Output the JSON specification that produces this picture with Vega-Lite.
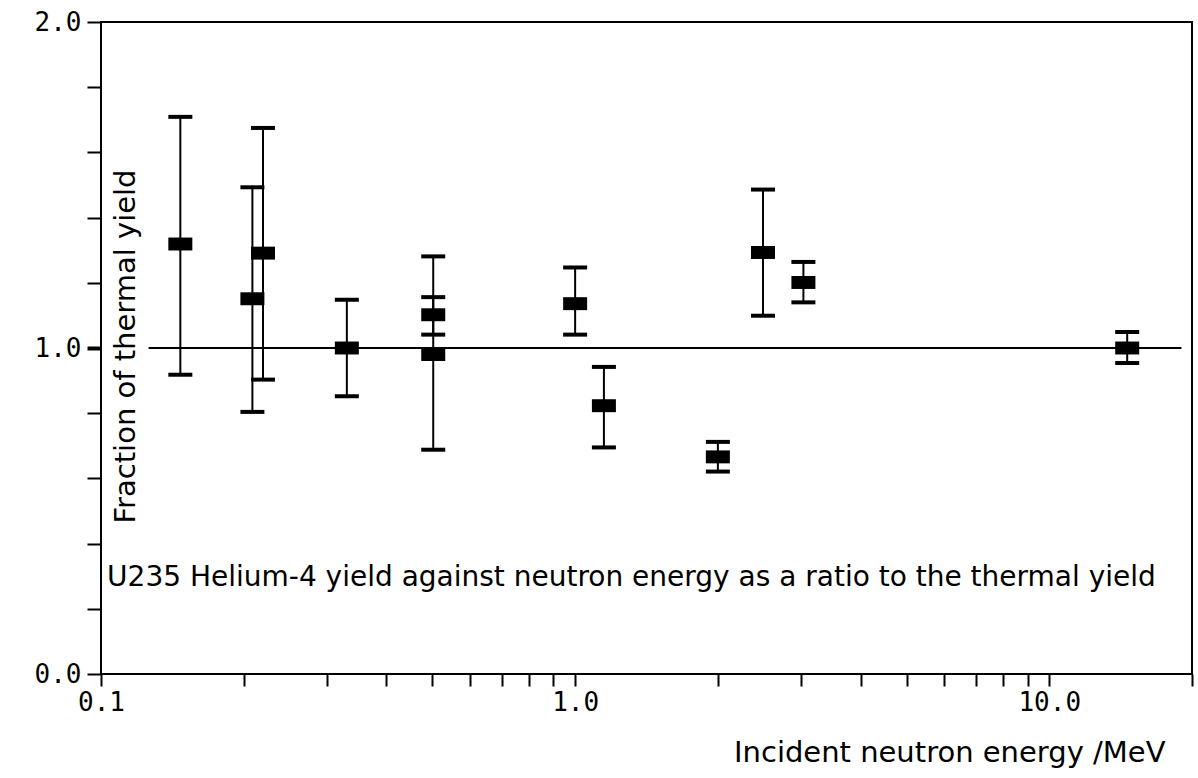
{
  "$schema": "https://vega.github.io/schema/vega-lite/v6.json",
  "width": 1091,
  "height": 652,
  "autosize": {"type": "none"},
  "padding": {"left": 101, "top": 22, "right": 6, "bottom": 104},
  "background": "white",
  "config": {
    "view": {"stroke": "black", "strokeWidth": 2},
    "font": "DejaVu Sans",
    "axis": {
      "domain": false,
      "grid": false,
      "tickColor": "black",
      "labelColor": "black",
      "titleColor": "black",
      "labelFont": "DejaVu Sans Mono",
      "labelFontSize": 26,
      "titleFont": "DejaVu Sans",
      "titleFontSize": 29,
      "titleFontWeight": "normal"
    }
  },
  "datasets": {
    "points": [
      {"x": 0.147, "y": 1.319, "lo": 0.918, "hi": 1.709},
      {"x": 0.2086, "y": 1.151, "lo": 0.804, "hi": 1.493},
      {"x": 0.2196, "y": 1.291, "lo": 0.903, "hi": 1.675},
      {"x": 0.33, "y": 1.0, "lo": 0.852, "hi": 1.148},
      {"x": 0.502, "y": 1.102, "lo": 1.041, "hi": 1.156},
      {"x": 0.502, "y": 0.98, "lo": 0.688, "hi": 1.281},
      {"x": 1.0, "y": 1.136, "lo": 1.041, "hi": 1.247},
      {"x": 1.15, "y": 0.823, "lo": 0.695, "hi": 0.942},
      {"x": 2.0, "y": 0.666, "lo": 0.621, "hi": 0.712},
      {"x": 2.49, "y": 1.293, "lo": 1.099, "hi": 1.486},
      {"x": 3.03, "y": 1.201, "lo": 1.14, "hi": 1.264},
      {"x": 14.6, "y": 1.0, "lo": 0.954, "hi": 1.049}
    ],
    "ref": [{"x": 0.126, "x2": 19.0, "y": 1.0}]
  },
  "layer": [
    {
      "data": {"name": "ref"},
      "mark": {"type": "rule", "color": "black", "strokeWidth": 2},
      "encoding": {
        "x": {"field": "x", "type": "quantitative", "scale": {"type": "log", "domain": [0.1, 20]},
          "axis": {"title": "Incident neutron energy /MeV", "values": [0.1,0.2,0.3,0.4,0.5,0.6,0.7,0.8,0.9,1,2,3,4,5,6,7,8,9,10,20],
            "labelExpr": "datum.value == 0.1 || datum.value == 1 || datum.value == 10 ? format(datum.value, '.1f') : ''",
            "tickSize": 12, "tickWidth": 2, "labelPadding": 3, "titleAlign": "right", "titleAnchor": "end", "titleX": 1064, "titleY": 78, "titleBaseline": "middle", "labelFlush": false, "labelOverlap": false}},
        "x2": {"field": "x2"},
        "y": {"field": "y", "type": "quantitative", "scale": {"domain": [0, 2]},
          "axis": {"title": "Fraction of thermal yield", "values": [0,0.2,0.4,0.6,0.8,1,1.2,1.4,1.6,1.8,2],
            "labelExpr": "datum.value == 0 || datum.value == 1 || datum.value == 2 ? format(datum.value, '.1f') : ''",
            "tickSize": 14, "tickWidth": {"condition": {"test": "datum.value == 1", "value": 4}, "value": 2}, "labelPadding": 6,
            "titleAngle": -90, "titleX": 24, "titleY": 324, "titleAlign": "center", "titleBaseline": "middle", "labelOverlap": false}}
      }
    },
    {
      "data": {"name": "points"},
      "mark": {"type": "rule", "color": "black", "strokeWidth": 2},
      "encoding": {
        "x": {"field": "x", "type": "quantitative", "scale": {"type": "log", "domain": [0.1, 20]}},
        "y": {"field": "lo", "type": "quantitative", "scale": {"domain": [0, 2]}},
        "y2": {"field": "hi"}
      }
    },
    {
      "data": {"name": "points"},
      "mark": {"type": "tick", "orient": "horizontal", "size": 24, "thickness": 4, "color": "black", "opacity": 1},
      "encoding": {
        "x": {"field": "x", "type": "quantitative", "scale": {"type": "log", "domain": [0.1, 20]}},
        "y": {"field": "lo", "type": "quantitative", "scale": {"domain": [0, 2]}}
      }
    },
    {
      "data": {"name": "points"},
      "mark": {"type": "tick", "orient": "horizontal", "size": 24, "thickness": 4, "color": "black", "opacity": 1},
      "encoding": {
        "x": {"field": "x", "type": "quantitative", "scale": {"type": "log", "domain": [0.1, 20]}},
        "y": {"field": "hi", "type": "quantitative", "scale": {"domain": [0, 2]}}
      }
    },
    {
      "data": {"name": "points"},
      "mark": {"type": "point", "shape": "M-1,-0.54H1V0.54H-1Z", "size": 576, "filled": true, "color": "black", "opacity": 1, "strokeWidth": 0},
      "encoding": {
        "x": {"field": "x", "type": "quantitative", "scale": {"type": "log", "domain": [0.1, 20]}},
        "y": {"field": "y", "type": "quantitative", "scale": {"domain": [0, 2]}}
      }
    },
    {
      "data": {"values": [{}]},
      "mark": {"type": "text", "align": "left", "baseline": "middle", "fontSize": 28, "font": "DejaVu Sans", "color": "black"},
      "encoding": {
        "x": {"datum": 0.103, "type": "quantitative", "scale": {"type": "log", "domain": [0.1, 20]}},
        "y": {"datum": 0.295, "type": "quantitative", "scale": {"domain": [0, 2]}},
        "text": {"value": "U235 Helium-4 yield against neutron energy as a ratio to the thermal yield"}
      }
    }
  ]
}
